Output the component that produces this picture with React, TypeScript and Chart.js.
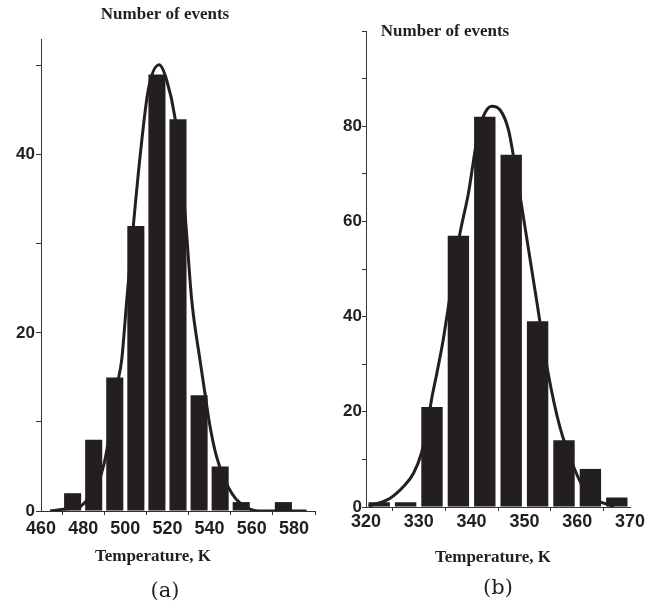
import React, { useEffect, useRef } from 'react';
import { Chart, registerables } from 'chart.js';

Chart.register(...registerables);

const INK = '#231f20';
const AXIS = '#333333';
const CLEAR = 'rgba(0,0,0,0)';

// ---------- Panel (a) ----------
const binCentersA = [475, 485, 495, 505, 515, 525, 535, 545, 555, 565, 575];
const countsA = [2, 8, 15, 32, 49, 44, 13, 5, 1, 0, 1];
const fitTempA = [464.3, 470.6, 478.5, 481.7, 486.4, 489.6, 491.2, 493.5, 495.9, 498.3, 500.7, 503.8, 507, 510.9, 516.1, 519.6, 523.6, 528.3, 531.5, 535.4, 537.8, 540.2, 543.3, 546.5, 550.5, 554.4, 560.7, 567, 586];
const fitCountA = [0, 0.2, 0.5, 1.2, 2.7, 5.0, 6.8, 10.2, 13.9, 17, 23.7, 32, 39.8, 47.3, 50.1, 48.4, 44.1, 33.5, 23.7, 17, 13.2, 9.5, 6.1, 3.9, 2.0, 0.9, 0.1, 0, 0];
const xTickValuesA = [460, 470, 480, 490, 500, 510, 520, 530, 540, 550, 560, 570, 580, 590];
const xLabelValuesA = [460, 480, 500, 520, 540, 560, 580];
const xMarkValuesA = [470, 490, 510, 530, 550, 570, 590];
const yTickValuesA = [0, 10, 20, 30, 40, 50];
const yLabelValuesA = [0, 20, 40];

// ---------- Panel (b) ----------
const binCentersB = [322.5, 327.5, 332.5, 337.5, 342.5, 347.5, 352.5, 357.5, 362.5, 367.5];
const countsB = [1, 1, 21, 57, 82, 74, 39, 14, 8, 2];
const fitTempB = [320.5, 324.5, 327.1, 329, 330.5, 331.5, 332.4, 333.4, 334.6, 335.8, 337.8, 339.4, 341, 342.2, 343.8, 345.4, 347, 347.9, 349.5, 351.1, 352.3, 354.5, 356.7, 359.3, 361.8, 364.3, 366.2, 367];
const fitCountB = [0.2, 1.8, 4.3, 7.1, 11.3, 16.2, 22.5, 28, 35, 43.5, 57.5, 65.9, 77.1, 82, 84.2, 83.4, 79.2, 73.9, 63.1, 51.9, 43.5, 28.1, 16.9, 8.5, 2.9, 1.1, 0.4, 0.2];
const xTickValuesB = [320, 325, 330, 335, 340, 345, 350, 355, 360, 365, 370];
const xLabelValuesB = [320, 330, 340, 350, 360, 370];
const xMarkValuesB = [325, 335, 345, 355, 365];
const yTickValuesB = [0, 10, 20, 30, 40, 50, 60, 70, 80, 90, 100];
const yLabelValuesB = [0, 20, 40, 60, 80];

const yTitle = 'Number of events';
const xTitle = 'Temperature, K';

type PanelSpec = {
  label: string;
  bins: number[];
  counts: number[];
  fitT: number[];
  fitV: number[];
  xTicks: number[];
  xLabels: number[];
  xMarks: number[];
  yTicks: number[];
  yLabels: number[];
  xMin: number;
  xMax: number;
  yMax: number;
  left: number;
  width: number;
  padLeft: number;
  padRight: number;
  yWidth: number;
  xHeight: number;
  titleTop: number;
  titleBottom: number;
  subBottom: number;
  subFull: boolean;
  xTitleBottom: number;
  xTitleShift: number;
  xTickPad: number;
  yTickLen: number;
  yTickPad: number;
};

const panelA: PanelSpec = {
  label: '(a)',
  bins: binCentersA, counts: countsA, fitT: fitTempA, fitV: fitCountA,
  xTicks: xTickValuesA, xLabels: xLabelValuesA, xMarks: xMarkValuesA,
  yTicks: yTickValuesA, yLabels: yLabelValuesA,
  xMin: 460, xMax: 590, yMax: 53,
  left: 0, width: 326, padLeft: 15, padRight: 11, yWidth: 26, xHeight: 68.4,
  titleTop: 4, titleBottom: 14.6, subBottom: 3.4, subFull: true,
  xTitleBottom: 12.2, xTitleShift: -25, xTickPad: 3, yTickLen: 5, yTickPad: 1,
};

const panelB: PanelSpec = {
  label: '(b)',
  bins: binCentersB, counts: countsB, fitT: fitTempB, fitV: fitCountB,
  xTicks: xTickValuesB, xLabels: xLabelValuesB, xMarks: xMarkValuesB,
  yTicks: yTickValuesB, yLabels: yLabelValuesB,
  xMin: 320, xMax: 370, yMax: 100,
  left: 235, width: 420, padLeft: 25, padRight: 25, yWidth: 106, xHeight: 68.7,
  titleTop: 21.3, titleBottom: -10.7, subBottom: 7.1, subFull: false,
  xTitleBottom: 8.2, xTitleShift: -5, xTickPad: 0, yTickLen: 4, yTickPad: 0,
};

function xTitleShiftPlugin(dx: number) {
  return {
    id: 'xTitleShift',
    beforeDraw(chart: any) {
      const s = chart.scales.x;
      if (!s || s.__shifted) return;
      const orig = s.drawTitle;
      s.drawTitle = function (...args: any[]) {
        const c = this.ctx;
        c.save();
        c.translate(dx, 0);
        orig.apply(this, args);
        c.restore();
      };
      s.__shifted = true;
    },
  };
}

function makeConfig(p: PanelSpec): any {
  const sans = '"Liberation Sans", Arial, sans-serif';
  const serif = '"Liberation Serif", "Times New Roman", serif';
  return {
    type: 'bar',
    data: {
      datasets: [
        {
          type: 'line',
          label: 'fit',
          data: p.fitT.map((t, i) => ({ x: t, y: p.fitV[i] })),
          borderColor: INK,
          borderWidth: 3,
          pointRadius: 0,
          fill: false,
          tension: 0.4,
          cubicInterpolationMode: 'monotone',
          order: 0,
        },
        {
          type: 'bar',
          label: 'events',
          data: p.bins.map((b, i) => ({ x: b, y: p.counts[i] })),
          backgroundColor: INK,
          borderWidth: 0,
          barPercentage: 0.81,
          categoryPercentage: 1,
          order: 1,
        },
      ],
    },
    options: {
      responsive: false,
      maintainAspectRatio: false,
      animation: false,
      devicePixelRatio: 1,
      layout: { padding: { left: p.padLeft, right: p.padRight, top: 0, bottom: 0 } },
      plugins: {
        legend: { display: false },
        tooltip: { enabled: false },
        title: {
          display: true,
          text: yTitle,
          color: INK,
          font: { family: serif, size: 17, weight: 'bold', lineHeight: 1.2 },
          padding: { top: p.titleTop, bottom: p.titleBottom },
          fullSize: true,
          align: 'center',
        },
        subtitle: {
          display: true,
          position: 'bottom',
          text: p.label,
          color: INK,
          font: { family: '"DejaVu Serif", serif', size: 21, weight: 'normal', lineHeight: 1.2 },
          padding: { top: 0, bottom: p.subBottom },
          fullSize: p.subFull,
          align: 'center',
        },
      },
      scales: {
        x: {
          type: 'linear',
          position: 'bottom',
          min: p.xMin,
          max: p.xMax,
          offset: false,
          afterBuildTicks: (s: any) => {
            s.ticks = p.xTicks.map((v) => ({ value: v }));
          },
          afterFit: (s: any) => {
            s.height = p.xHeight;
          },
          ticks: {
            autoSkip: false,
            maxRotation: 0,
            minRotation: 0,
            padding: p.xTickPad,
            color: INK,
            font: { family: sans, size: 18, weight: 'bold', lineHeight: 1.2 },
            callback: (v: number) => (p.xLabels.includes(v) ? String(v) : ''),
          },
          grid: {
            display: true,
            offset: false,
            drawOnChartArea: false,
            drawTicks: true,
            tickLength: 4,
            tickWidth: 1,
            tickColor: (ctx: any) => (ctx.tick && p.xMarks.includes(ctx.tick.value) ? AXIS : CLEAR),
          },
          border: { display: true, color: AXIS, width: 1 },
          title: {
            display: true,
            text: xTitle,
            color: INK,
            font: { family: serif, size: 17, weight: 'bold', lineHeight: 1.2 },
            padding: { top: 0, bottom: p.xTitleBottom },
          },
        },
        y: {
          type: 'linear',
          position: 'left',
          min: 0,
          max: p.yMax,
          afterBuildTicks: (s: any) => {
            s.ticks = p.yTicks.map((v) => ({ value: v }));
          },
          afterFit: (s: any) => {
            s.width = p.yWidth;
          },
          ticks: {
            autoSkip: false,
            padding: p.yTickPad,
            color: INK,
            font: { family: sans, size: 17, weight: 'bold', lineHeight: 1.2 },
            callback: (v: number) => (p.yLabels.includes(v) ? String(v) : ''),
          },
          grid: {
            display: true,
            drawOnChartArea: false,
            drawTicks: true,
            tickLength: p.yTickLen,
            tickWidth: 1,
            tickColor: AXIS,
          },
          border: { display: true, color: AXIS, width: 1 },
        },
      },
    },
    plugins: [xTitleShiftPlugin(p.xTitleShift)],
  };
}

function Panel({ p }: { p: PanelSpec }) {
  const ref = useRef<HTMLCanvasElement>(null);
  useEffect(() => {
    if (!ref.current) return;
    const chart = new Chart(ref.current, makeConfig(p));
    return () => chart.destroy();
  }, [p]);
  return (
    <canvas
      ref={ref}
      width={p.width}
      height={608}
      style={{ position: 'absolute', left: p.left, top: 0, width: p.width, height: 608 }}
    />
  );
}

export default function App() {
  return (
    <div
      style={{
        position: 'fixed',
        left: 0,
        top: 0,
        width: 656,
        height: 608,
        background: '#ffffff',
        overflow: 'hidden',
      }}
    >
      <Panel p={panelA} />
      <Panel p={panelB} />
    </div>
  );
}
